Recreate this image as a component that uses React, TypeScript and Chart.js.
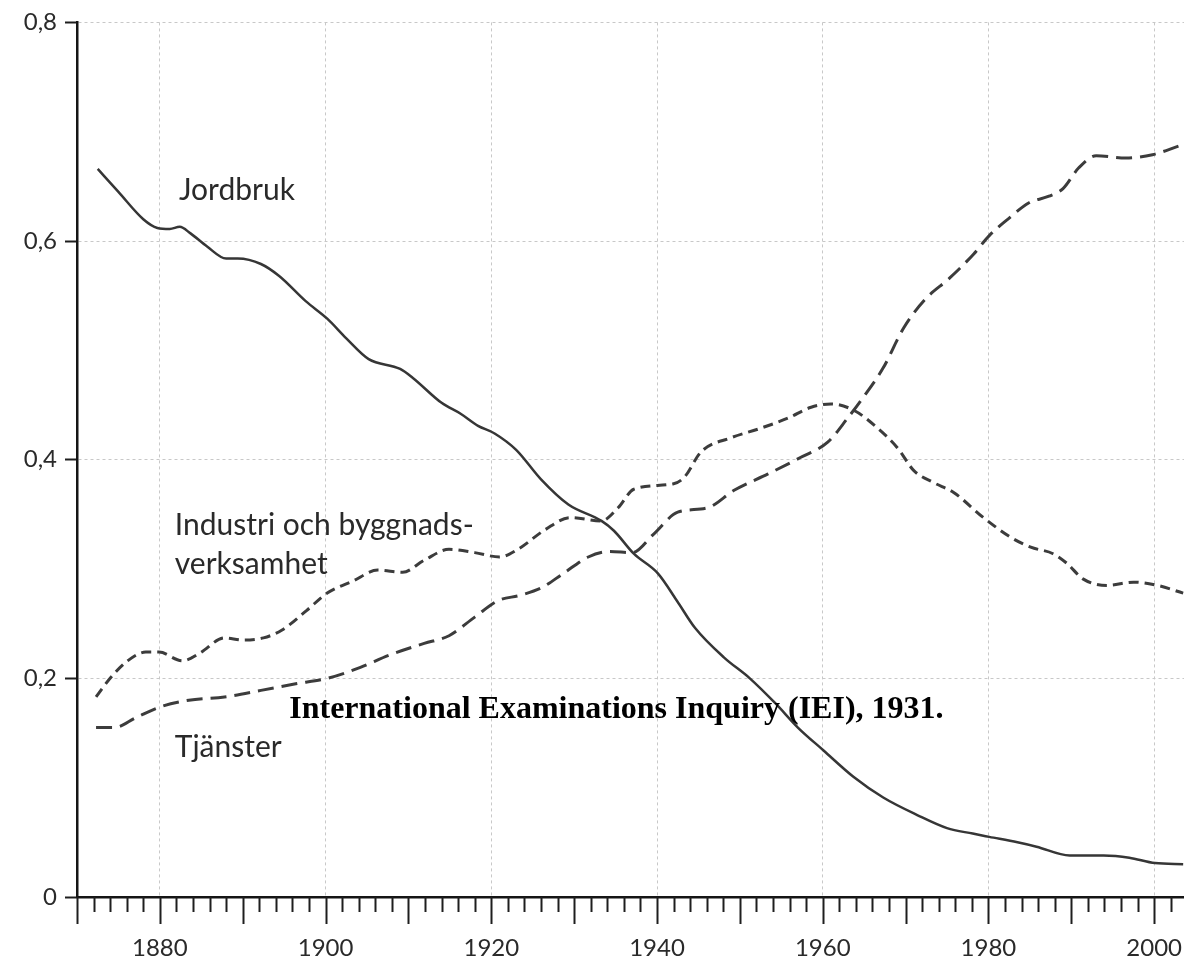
import React, { useEffect, useRef } from 'react';
import { Chart, registerables } from 'chart.js';

Chart.register(...registerables);

// ---- Data ----
const jordbrukYears = [1872.5, 1875, 1878, 1879.7, 1881.2, 1882.4, 1883.7, 1885.7, 1888, 1889.4, 1892.2, 1894.4, 1897.6, 1900.2, 1902.5, 1905.2, 1909, 1910.5, 1914, 1916.3, 1918.4, 1920.4, 1923, 1926, 1929.3, 1933.3, 1934.8, 1937.2, 1940.1, 1942.4, 1944.6, 1948.1, 1951.2, 1954.3, 1957, 1960.1, 1963.7, 1967.3, 1971.4, 1975, 1978.1, 1980.1, 1983.5, 1985.8, 1989.8, 1993.9, 1997, 2000.1, 2003.5];
const jordbrukValues = [0.666, 0.645, 0.62, 0.612, 0.611, 0.613, 0.607, 0.595, 0.584, 0.584, 0.579, 0.568, 0.545, 0.529, 0.511, 0.492, 0.483, 0.475, 0.452, 0.442, 0.431, 0.424, 0.409, 0.382, 0.359, 0.344, 0.335, 0.314, 0.296, 0.271, 0.246, 0.219, 0.2, 0.177, 0.155, 0.134, 0.11, 0.091, 0.075, 0.063, 0.058, 0.055, 0.05, 0.046, 0.038, 0.038, 0.036, 0.031, 0.03];

const industriYears = [1872.3, 1874.1, 1876.1, 1878.3, 1879.9, 1882.7, 1884.8, 1887.8, 1890, 1892.5, 1894.7, 1897.7, 1900.2, 1903.3, 1906.3, 1909.3, 1911.9, 1914.9, 1918, 1921, 1923.2, 1926.5, 1929.5, 1933.3, 1935.3, 1937.2, 1942, 1943.3, 1945.3, 1948.9, 1952.2, 1955.8, 1958.6, 1961, 1963.8, 1966.6, 1969, 1971, 1973.4, 1975.8, 1979.4, 1982.7, 1985.1, 1987.8, 1989.5, 1991.4, 1994.3, 1997.5, 2000.4, 2003.5];
const industriValues = [0.183, 0.201, 0.216, 0.224, 0.224, 0.216, 0.223, 0.237, 0.235, 0.237, 0.244, 0.262, 0.278, 0.289, 0.299, 0.297, 0.308, 0.318, 0.315, 0.311, 0.318, 0.336, 0.347, 0.344, 0.356, 0.373, 0.378, 0.384, 0.407, 0.42, 0.428, 0.438, 0.448, 0.451, 0.445, 0.429, 0.411, 0.39, 0.379, 0.37, 0.347, 0.329, 0.32, 0.314, 0.305, 0.291, 0.285, 0.288, 0.285, 0.278];

const tjansterYears = [1872.3, 1874.5, 1877.1, 1880.1, 1883.5, 1887.8, 1892.2, 1896.4, 1900.2, 1904.2, 1907.6, 1911.9, 1914.9, 1918, 1920.8, 1923.5, 1926.1, 1928.7, 1931.7, 1934.3, 1937, 1939.6, 1942.5, 1946.1, 1949.3, 1953.4, 1957.3, 1960.6, 1963, 1964.6, 1967.3, 1969.8, 1972.4, 1975.3, 1978.2, 1980.1, 1982.5, 1984.9, 1987.3, 1989, 1990.9, 1993, 1996.6, 1999.8, 2003];
const tjansterValues = [0.155, 0.155, 0.164, 0.174, 0.18, 0.183, 0.189, 0.195, 0.2, 0.21, 0.221, 0.232, 0.239, 0.256, 0.271, 0.276, 0.283, 0.296, 0.311, 0.316, 0.315, 0.332, 0.352, 0.356, 0.372, 0.387, 0.402, 0.416, 0.438, 0.454, 0.484, 0.521, 0.547, 0.566, 0.588, 0.605, 0.621, 0.635, 0.641, 0.648, 0.667, 0.678, 0.676, 0.679, 0.687];

const xTickLabels = [1880, 1900, 1920, 1940, 1960, 1980, 2000];
const yTickValues = [0, 0.2, 0.4, 0.6, 0.8];

const seriesNames = ['Jordbruk', 'Industri och byggnadsverksamhet', 'Tjänster'];

// ---- Layout / style constants ----
const X_MIN = 1870;
const X_MAX = 2003.6;
const MINOR_STEP = 2;
const MAJOR_STEP = 10;

const LABEL_FONT = '30px Lato';
const LABEL_COLOR = '#2a2a2a';

const annotations = [
  { lines: ['Jordbruk'], year: 1882.3, value: 0.638 },
  { lines: ['Industri och byggnads-'], year: 1881.8, value: 0.331 },
  { lines: ['verksamhet'], year: 1881.8, value: 0.295 },
  { lines: ['Tjänster'], year: 1881.8, value: 0.128 },
];

const toPoints = (xs: number[], ys: number[]) => xs.map((x, i) => ({ x, y: ys[i] }));

export default function App() {
  const ref = useRef<HTMLCanvasElement | null>(null);

  useEffect(() => {
    if (!ref.current) return;

    const axisTicks = {
      id: 'axisTicks',
      afterDraw(chart: any) {
        const { ctx, chartArea, scales } = chart;
        const x = scales.x;
        ctx.save();
        ctx.strokeStyle = '#1e1e1e';
        ctx.lineWidth = 2;
        for (let yr = X_MIN; yr <= X_MAX; yr += MINOR_STEP) {
          const px = Math.round(x.getPixelForValue(yr)) + 0.5;
          const len = yr % MAJOR_STEP === 0 ? 27 : 15;
          ctx.beginPath();
          ctx.moveTo(px, chartArea.bottom);
          ctx.lineTo(px, chartArea.bottom + len);
          ctx.stroke();
        }
        ctx.restore();
      },
    };

    const textLabels = {
      id: 'textLabels',
      afterDatasetsDraw(chart: any) {
        const { ctx, scales } = chart;
        const { x, y } = scales;
        ctx.save();
        ctx.font = LABEL_FONT;
        ctx.fillStyle = LABEL_COLOR;
        ctx.textAlign = 'left';
        ctx.textBaseline = 'alphabetic';
        annotations.forEach((a) => {
          const px = x.getPixelForValue(a.year);
          const py = y.getPixelForValue(a.value);
          a.lines.forEach((line, i) => ctx.fillText(line, px, py + i * 40));
        });
        // overlay caption
        ctx.font = 'bold 32px "Liberation Serif"';
        ctx.fillStyle = '#000';
        ctx.textAlign = 'center';
        ctx.fillText('International Examinations Inquiry (IEI), 1931.', x.getPixelForValue(1935.1), y.getPixelForValue(0.164));
        ctx.restore();
      },
    };

    const chart = new Chart(ref.current, {
      type: 'line',
      data: {
        datasets: [
          {
            label: seriesNames[0],
            data: toPoints(jordbrukYears, jordbrukValues),
            borderColor: '#363636',
            borderWidth: 2.5,
            pointRadius: 0,
            cubicInterpolationMode: 'monotone',
          },
          {
            label: seriesNames[1],
            data: toPoints(industriYears, industriValues),
            borderColor: '#3c3c3c',
            borderWidth: 3,
            borderDash: [10, 6],
            pointRadius: 0,
            cubicInterpolationMode: 'monotone',
          },
          {
            label: seriesNames[2],
            data: toPoints(tjansterYears, tjansterValues),
            borderColor: '#3c3c3c',
            borderWidth: 3,
            borderDash: [16, 8],
            pointRadius: 0,
            cubicInterpolationMode: 'monotone',
          },
        ],
      },
      options: {
        animation: false,
        responsive: true,
        maintainAspectRatio: false,
        layout: { padding: { top: 21, right: 0, left: 0, bottom: 0 } },
        plugins: {
          legend: { display: false },
          tooltip: { enabled: false },
          title: { display: false },
        },
        scales: {
          x: {
            type: 'linear',
            min: X_MIN,
            max: X_MAX,
            afterBuildTicks: (s: any) => {
              s.ticks = xTickLabels.map((v) => ({ value: v }));
            },
            afterFit: (s: any) => {
              s.height = 65;
              s.paddingLeft = 0;
              s.paddingRight = 0;
            },
            ticks: {
              callback: (v: any) => String(v),
              font: { family: 'Lato', size: 24 },
              color: '#2a2a2a',
              padding: 37,
              maxRotation: 0,
              autoSkip: false,
            },
            grid: {
              color: '#c8c8c8',
              lineWidth: 1,
              drawTicks: false,
            },
            border: { display: true, color: '#151515', width: 2.5, dash: [3, 3] },
          },
          y: {
            type: 'linear',
            min: 0,
            max: 0.8,
            afterBuildTicks: (s: any) => {
              s.ticks = yTickValues.map((v) => ({ value: v }));
            },
            afterFit: (s: any) => {
              s.width = 77;
            },
            ticks: {
              callback: (v: any) => (v === 0 ? '0' : Number(v).toFixed(1).replace('.', ',')),
              font: { family: 'Lato', size: 24 },
              color: '#2a2a2a',
              padding: 8,
            },
            grid: {
              color: '#c8c8c8',
              lineWidth: 1,
              drawTicks: true,
              tickLength: 12,
              tickColor: '#1e1e1e',
              tickWidth: 2,
            },
            border: { display: true, color: '#151515', width: 2.5, dash: [3, 3] },
          },
        },
      },
      plugins: [axisTicks, textLabels],
    } as any);

    return () => chart.destroy();
  }, []);

  return (
    <div style={{ position: 'fixed', left: 0, top: 0, width: 1184, height: 962, background: '#fff' }}>
      <canvas ref={ref} />
    </div>
  );
}
